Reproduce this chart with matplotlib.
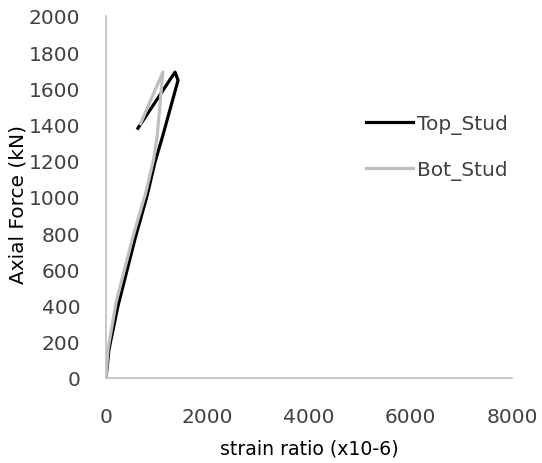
import matplotlib
matplotlib.use("Agg")
import matplotlib.pyplot as plt

# Data (strain ratio x10-6, axial force kN)
top_strain = [0, 60, 236, 571, 808, 966, 1120, 1420, 1360, 630]
top_force = [0, 160, 398, 768, 1006, 1193, 1340, 1645, 1690, 1380]
bot_strain = [0, 40, 200, 530, 780, 940, 1010, 1120, 680]
bot_force = [0, 160, 420, 780, 1020, 1210, 1340, 1690, 1405]

x_ticks = [0, 2000, 4000, 6000, 8000]
y_ticks = list(range(0, 2001, 200))

plt.rcParams['font.family'] = ['DejaVu Sans']
FS = 14.5

fig = plt.figure(figsize=(5.42, 4.64), dpi=100)
ax = fig.add_axes([106/542, 1 - 379/464, (512-106)/542, (379-17)/464])

ax.plot(top_strain, top_force, color='#000000', lw=2.3, label='Top_Stud', solid_joinstyle='round')
ax.plot(bot_strain, bot_force, color='#bfbfbf', lw=2.3, label='Bot_Stud', solid_joinstyle='round')

ax.set_xlim(0, 8000)
ax.set_ylim(0, 2000)
ax.set_xticks(x_ticks)
ax.set_yticks(y_ticks)
for s in ['top', 'right']:
    ax.spines[s].set_visible(False)
for s in ['left', 'bottom']:
    ax.spines[s].set_color('#bfbfbf')
    ax.spines[s].set_linewidth(1.2)
ax.tick_params(axis='both', length=0, labelsize=FS, labelcolor='#404040')
ax.tick_params(axis='y', pad=18.5)
ax.tick_params(axis='x', pad=21)

ax.set_xlabel('strain ratio (x10-6)', fontsize=13.6, color='#000000', labelpad=9)
ax.set_ylabel('Axial Force (kN)', fontsize=FS, color='#000000')
ax.yaxis.set_label_coords(-(106-28)/406, (379-205)/362)

leg = ax.legend(loc='upper left', bbox_to_anchor=(348/542, 1 - 97/464),
                bbox_transform=fig.transFigure, frameon=False, fontsize=FS,
                handlelength=2.34, handletextpad=0.2, labelspacing=1.3)
for t in leg.get_texts():
    t.set_color('#404040')

fig.savefig('out.png', dpi=100)
